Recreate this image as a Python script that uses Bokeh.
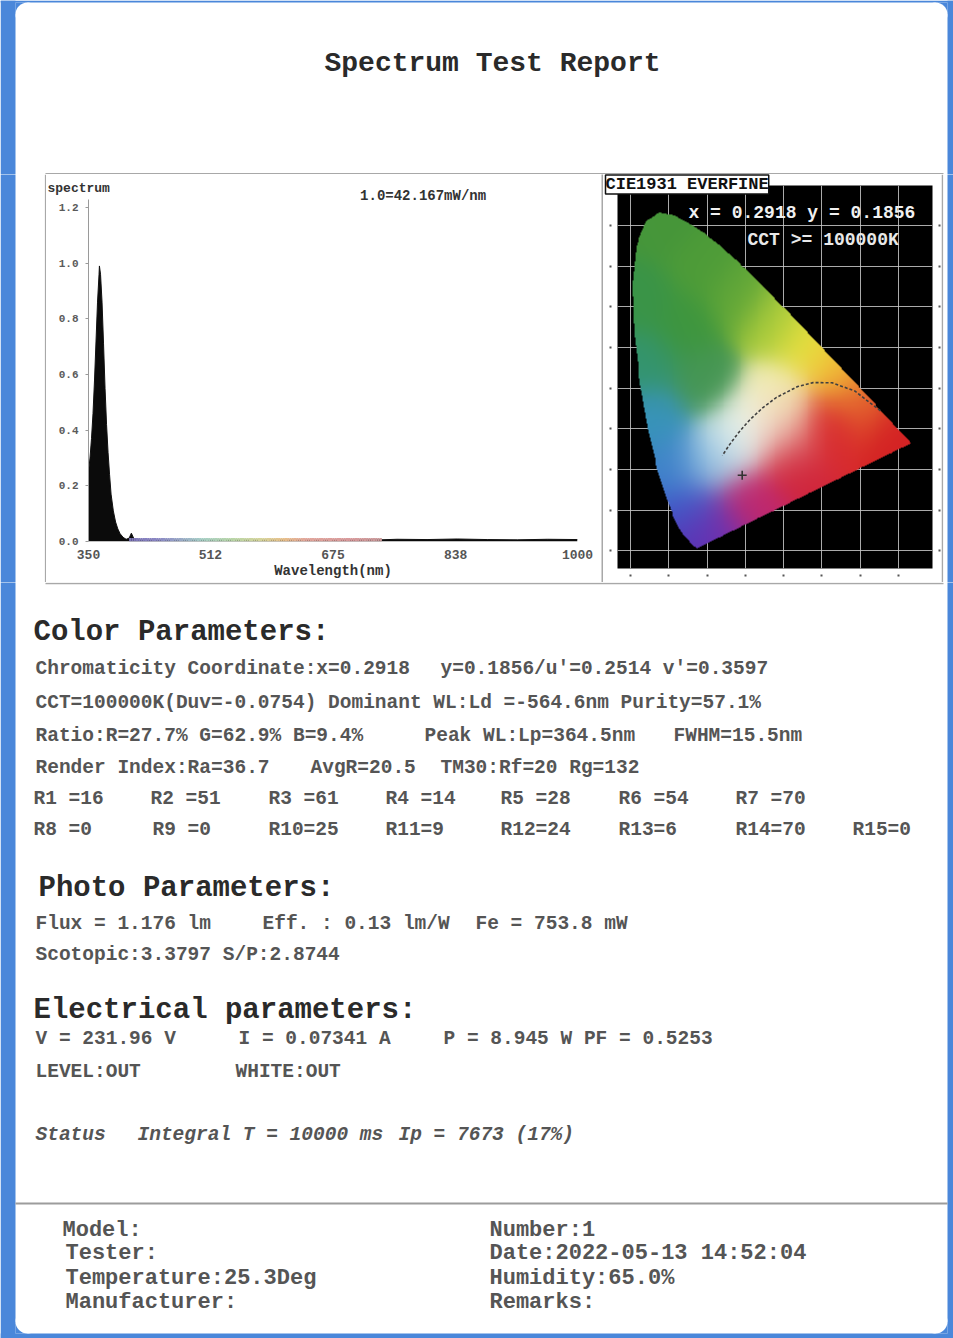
import numpy as np
from bokeh.plotting import figure
from bokeh.layouts import column, row
from bokeh.models import Range1d, FixedTicker, Label, LinearAxis, NumeralTickFormatter
from bokeh.core.properties import value
from bokeh.embed import file_html
from bokeh.resources import INLINE

# ------------------------------------------------------------------ data
report_title = "Spectrum Test Report"
spectrum_title = "spectrum"
spectrum_scale = "1.0=42.167mW/nm"
x_axis_title = "Wavelength(nm)"
x_tick_values = [350, 512, 675, 838, 1000]
y_tick_values = [0.0, 0.2, 0.4, 0.6, 0.8, 1.0, 1.2]

wavelength = [350, 352, 354, 356, 358, 360, 362, 364, 364.5, 366, 368, 370, 372, 374,
              376, 378, 380, 383, 386, 389, 392, 396, 400, 404, 407, 410, 415, 420,
              450, 500, 550, 600, 650, 700, 738, 760, 800, 840, 880, 920, 960, 1000]
rel_power = [0.25, 0.30, 0.37, 0.46, 0.58, 0.72, 0.86, 0.96, 0.99, 0.96, 0.86, 0.71, 0.55, 0.42,
             0.32, 0.24, 0.17, 0.11, 0.07, 0.045, 0.028, 0.015, 0.008, 0.012, 0.03, 0.012, 0.006, 0.005,
             0.005, 0.005, 0.005, 0.005, 0.005, 0.005, 0.006, 0.008, 0.007, 0.009, 0.007, 0.006, 0.008, 0.007]

cie_title = "CIE1931 EVERFINE"
cie_xy_text = "x = 0.2918 y = 0.1856"
cie_cct_text = "CCT >= 100000K"
meas_x = [0.2918]
meas_y = [0.1856]
grid_x = [0.0, 0.1, 0.2, 0.3, 0.4, 0.5, 0.6, 0.7]
grid_y = [0.0, 0.1, 0.2, 0.3, 0.4, 0.5, 0.6, 0.7, 0.8]

# CIE 1931 2-degree spectral locus (380..700 nm)
locus_x = [0.1741, 0.1738, 0.1733, 0.1726, 0.1714, 0.1689, 0.1644, 0.1566, 0.1440, 0.1355,
           0.1241, 0.1096, 0.0913, 0.0687, 0.0454, 0.0235, 0.0082, 0.0039, 0.0139, 0.0389,
           0.0743, 0.1142, 0.1547, 0.1929, 0.2296, 0.2658, 0.3016, 0.3373, 0.3731, 0.4087,
           0.4441, 0.4788, 0.5125, 0.5448, 0.5752, 0.6029, 0.6270, 0.6658, 0.6915, 0.7079,
           0.7190, 0.7260, 0.7300, 0.7334, 0.7347]
locus_y = [0.0050, 0.0049, 0.0048, 0.0048, 0.0051, 0.0069, 0.0109, 0.0177, 0.0297, 0.0399,
           0.0578, 0.0868, 0.1327, 0.2007, 0.2950, 0.4127, 0.5384, 0.6548, 0.7502, 0.8120,
           0.8338, 0.8262, 0.8059, 0.7816, 0.7543, 0.7243, 0.6923, 0.6589, 0.6245, 0.5896,
           0.5547, 0.5202, 0.4866, 0.4544, 0.4242, 0.3965, 0.3725, 0.3340, 0.3083, 0.2920,
           0.2809, 0.2740, 0.2700, 0.2666, 0.2653]

# Planckian locus (1000 K .. infinity)
planck_x = [0.6528, 0.5857, 0.5267, 0.4770, 0.4369, 0.3805, 0.3451, 0.3135, 0.2952, 0.2807, 0.2637, 0.2565, 0.2399]
planck_y = [0.3444, 0.3931, 0.4133, 0.4137, 0.4041, 0.3768, 0.3516, 0.3237, 0.3048, 0.2884, 0.2674, 0.2577, 0.2342]

section_titles = ["Color Parameters:", "Photo Parameters:", "Electrical parameters:"]
chroma_text = ["Chromaticity Coordinate:x=0.2918", "y=0.1856/u'=0.2514 v'=0.3597"]
cct_text = ["CCT=100000K(Duv=-0.0754) Dominant WL:Ld =-564.6nm Purity=57.1%"]
ratio_text = ["Ratio:R=27.7% G=62.9% B=9.4%", "Peak WL:Lp=364.5nm", "FWHM=15.5nm"]
render_text = ["Render Index:Ra=36.7", "AvgR=20.5", "TM30:Rf=20 Rg=132"]
cri_index = list(range(1, 16))
cri_values = [16, 51, 61, 14, 28, 54, 70, 0, 0, 25, 9, 24, 6, 70, 0]
photo_text = ["Flux  = 1.176 lm", "Eff. : 0.13 lm/W", "Fe  = 753.8 mW"]
scotopic_text = ["Scotopic:3.3797 S/P:2.8744"]
elec_text = ["V = 231.96 V", "I = 0.07341 A", "P = 8.945 W PF = 0.5253"]
level_text = ["LEVEL:OUT", "WHITE:OUT"]
status_text = ["Status", "Integral T = 10000 ms", "Ip = 7673 (17%)"]
footer_left = ["Model:", "Tester:", "Temperature:25.3Deg", "Manufacturer:"]
footer_right = ["Number:1", "Date:2022-05-13 14:52:04", "Humidity:65.0%", "Remarks:"]

# ------------------------------------------------------------------ style
MONO = "Liberation Mono"
BLUE = "#4a87da"
BOX = "#a8a8a8"
BODY = "#555555"
HEAD = "#2a2a2a"


def canvas(w, h, x0, x1, y0, y1, bg="white"):
    p = figure(width=w, height=h, x_range=Range1d(x0, x1), y_range=Range1d(y0, y1),
               output_backend="svg", toolbar_location=None,
               x_axis_location=None, y_axis_location=None, frame_align=False,
               min_border_left=0, min_border_right=0, min_border_top=0, min_border_bottom=0,
               outline_line_color=None, background_fill_color=bg, border_fill_color=bg)
    p.grid.grid_line_color = None
    return p


def txt(p, xs, ys, texts, size, color=BODY, style="bold", align="left"):
    p.text(x=xs, y=ys, text=texts, text_font=value(MONO), text_font_style=style,
           text_font_size=size, text_color=color, text_baseline="middle", text_align=align)


def blue(p, l, r, t, b):
    p.quad(left=[l], right=[r], top=[t], bottom=[b], fill_color=BLUE, line_color=None)


# ------------------------------------------------------------------ header (page y 0..174)
head = canvas(953, 174, 0, 953, 174, 0)
blue(head, 0, 15, 0, 174.5)
blue(head, 947, 953, 0, 174.5)
blue(head, 0, 953, 0, 2)
blue(head, 15, 27, 2, 14)
blue(head, 935, 947, 2, 14)
head.circle(x=[27, 935], y=[14, 14], radius=12, fill_color="white", line_color=None)
head.segment(x0=[45], y0=[173.2], x1=[943], y1=[173.2], line_color=BOX, line_width=1.6)
txt(head, [492], [63], [report_title], "28px", HEAD, align="center")

# ------------------------------------------------------------------ left filler (x 0..46)
lf = canvas(46, 408, 0, 46, 582, 174)
blue(lf, 0, 15, 173.5, 582.5)
lf.segment(x0=[45.2], y0=[174], x1=[45.2], y1=[582], line_color=BOX, line_width=1.6)

# ------------------------------------------------------------------ spectrum (x 46..601)
spec = figure(width=555, height=408, x_range=Range1d(350, 1000), y_range=Range1d(0, 1.279),
              output_backend="svg", toolbar_location=None, frame_align=False,
              min_border_left=42, min_border_right=24, min_border_top=11, min_border_bottom=41,
              outline_line_color=None, background_fill_color="white", border_fill_color="white")
spec.grid.grid_line_color = None
spec.varea(x=wavelength, y1=0, y2=rel_power, fill_color="#0b0b0b")
spec.line(x=wavelength, y=rel_power, line_color="#111111", line_width=1)

# visible-light colour band along the baseline (decoration keyed to wavelength)
stops_wl = [404, 440, 470, 500, 540, 580, 610, 640, 700, 738]
stops_rgb = [(126, 118, 184), (138, 134, 196), (152, 166, 200), (166, 207, 198), (184, 214, 168),
             (214, 212, 154), (232, 191, 138), (226, 166, 156), (216, 153, 155), (201, 154, 154)]
edges = np.arange(404, 741, 3.0)
mids = (edges[:-1] + edges[1:]) / 2
cols = []
for m in mids:
    r = np.interp(m, stops_wl, [c[0] for c in stops_rgb])
    g = np.interp(m, stops_wl, [c[1] for c in stops_rgb])
    b = np.interp(m, stops_wl, [c[2] for c in stops_rgb])
    cols.append("#%02x%02x%02x" % (int(r), int(g), int(b)))
spec.quad(left=edges[:-1], right=edges[1:], bottom=0, top=0.013, fill_color=cols, line_color=None)

xa = spec.xaxis[0]
xa.ticker = FixedTicker(ticks=x_tick_values)
xa.axis_line_color = None
xa.major_tick_line_color = None
xa.minor_tick_line_color = None
xa.major_tick_out = 0
xa.major_tick_in = 0
xa.major_label_standoff = 8
xa.major_label_text_font = MONO
xa.major_label_text_font_style = "bold"
xa.major_label_text_font_size = "13px"
xa.major_label_text_color = "#555555"
xa.axis_label = x_axis_title
xa.axis_label_standoff = 1
xa.axis_label_text_font = MONO
xa.axis_label_text_font_style = "bold"
xa.axis_label_text_font_size = "14px"
xa.axis_label_text_color = "#333333"

ya = spec.yaxis[0]
ya.ticker = FixedTicker(ticks=y_tick_values)
ya.formatter = NumeralTickFormatter(format="0.0")
ya.bounds = (0, 1.23)
ya.axis_line_color = "#9a9a9a"
ya.major_tick_line_color = "#9a9a9a"
ya.minor_tick_line_color = None
ya.major_tick_out = 3
ya.major_tick_in = 0
ya.major_label_standoff = 7
ya.major_label_text_font = MONO
ya.major_label_text_font_style = "bold"
ya.major_label_text_font_size = "11px"
ya.major_label_text_color = "#5a5a5a"

spec.title.text = spectrum_title
spec.title.align = "left"
spec.title.offset = -41
spec.title.standoff = -21
spec.title.text_font = MONO
spec.title.text_font_style = "bold"
spec.title.text_font_size = "13px"
spec.title.text_color = "#333333"
spec.add_layout(Label(x=711, y=1.243, text=spectrum_scale, text_font=MONO, text_font_style="bold",
                      text_font_size="14px", text_color="#333333", text_baseline="middle"))

# ------------------------------------------------------------------ separator (x 601..603)
sep = canvas(2, 408, 0, 1, 0, 1, bg=BOX)

# ------------------------------------------------------------------ CIE diagram (x 603..941)
cie = figure(width=338, height=408, x_range=Range1d(-0.034, 0.789), y_range=Range1d(-0.044, 0.899),
             output_backend="svg", toolbar_location=None, frame_align=False,
             min_border_left=14, min_border_right=9, min_border_top=11, min_border_bottom=14,
             outline_line_color=None, background_fill_color="black", border_fill_color="white")
cie.xgrid.ticker = FixedTicker(ticks=grid_x)
cie.ygrid.ticker = FixedTicker(ticks=grid_y)
cie.grid.grid_line_color = "#c8c8c8"
cie.grid.grid_line_width = 1
cie.grid.grid_line_alpha = 0.85
cie.add_layout(LinearAxis(), "right")
for ax in cie.xaxis:
    ax.ticker = FixedTicker(ticks=grid_x + [0.8])
for ax in cie.yaxis:
    ax.ticker = FixedTicker(ticks=grid_y)
for ax in cie.axis:
    ax.axis_line_color = None
    ax.minor_tick_line_color = None
    ax.major_tick_line_color = "#555555"
    ax.major_tick_line_width = 2
    ax.major_tick_in = -6
    ax.major_tick_out = 8
    ax.major_label_text_font_size = "1px"
    ax.major_label_text_color = None
    ax.major_label_standoff = 0

# gamut colouring: smooth blend of colour anchors
anchors = [
    (0.08, 0.80, (70, 150, 58)), (0.03, 0.62, (58, 148, 72)), (0.18, 0.70, (78, 156, 56)),
    (0.28, 0.62, (96, 166, 56)), (0.37, 0.56, (170, 204, 60)), (0.46, 0.51, (232, 224, 62)),
    (0.54, 0.44, (242, 190, 56)), (0.61, 0.37, (228, 100, 46)), (0.69, 0.29, (212, 34, 36)),
    (0.52, 0.30, (216, 42, 46)), (0.42, 0.22, (208, 36, 58)), (0.31, 0.12, (192, 40, 110)),
    (0.22, 0.05, (122, 46, 172)), (0.17, 0.015, (86, 50, 182)), (0.15, 0.10, (62, 92, 202)),
    (0.11, 0.21, (62, 130, 202)), (0.06, 0.32, (56, 148, 186)), (0.04, 0.46, (52, 148, 110)),
    (0.32, 0.31, (246, 246, 232)), (0.27, 0.27, (214, 234, 236)), (0.38, 0.38, (242, 236, 178)),
    (0.19, 0.42, (70, 150, 84)), (0.21, 0.22, (150, 196, 226)), (0.40, 0.30, (236, 190, 176)),
    (0.14, 0.55, (62, 150, 62)),
]
gx0, gx1, gy0, gy1 = 0.0, 0.74, 0.0, 0.84
nx, ny = 300, 340
xs = np.linspace(gx0, gx1, nx)
ys = np.linspace(gy0, gy1, ny)
GX, GY = np.meshgrid(xs, ys)
inside = np.zeros(GX.shape, dtype=bool)
vx = np.array(locus_x)
vy = np.array(locus_y)
j = len(vx) - 1
for i in range(len(vx)):
    xi, yi, xj, yj = vx[i], vy[i], vx[j], vy[j]
    dy = (yj - yi) if yj != yi else 1e-12
    cond = ((yi > GY) != (yj > GY)) & (GX < (xj - xi) * (GY - yi) / dy + xi)
    inside ^= cond
    j = i
wsum = np.zeros(GX.shape)
acc = np.zeros(GX.shape + (3,))
for ax_, ay_, c in anchors:
    w = np.exp(-((GX - ax_) ** 2 + (GY - ay_) ** 2) / (0.075 ** 2)) + 1e-12
    wsum += w
    acc += w[..., None] * np.array(c, dtype=float)
rgb = np.clip(acc / wsum[..., None], 0, 255)
img = np.zeros((ny, nx), dtype=np.uint32)
view = img.view(dtype=np.uint8).reshape((ny, nx, 4))
view[..., 0] = rgb[..., 0].astype(np.uint8)
view[..., 1] = rgb[..., 1].astype(np.uint8)
view[..., 2] = rgb[..., 2].astype(np.uint8)
view[..., 3] = np.where(inside, 255, 0).astype(np.uint8)
cie.image_rgba(image=[img], x=gx0, y=gy0, dw=gx1 - gx0, dh=gy1 - gy0)

cie.line(x=planck_x, y=planck_y, line_color="#404040", line_width=1.6, line_dash="3 2")
cie.scatter(x=meas_x, y=meas_y, marker="cross", size=9, line_color="#333333", line_width=1.6)
cie.text(x=[0.1515], y=[0.8325], text=[cie_xy_text], text_font=value(MONO), text_font_style="bold",
         text_font_size="18px", text_color="#f0f0f0", text_baseline="middle")
cie.text(x=[0.3057], y=[0.7636], text=[cie_cct_text], text_font=value(MONO), text_font_style="bold",
         text_font_size="18px", text_color="#e8e8e8", text_baseline="middle")
cie.title.text = cie_title
cie.title.align = "left"
cie.title.offset = -12
cie.title.standoff = -17
cie.title.text_font = MONO
cie.title.text_font_style = "bold"
cie.title.text_font_size = "17px"
cie.title.text_color = "#111111"
cie.title.background_fill_color = "white"
cie.title.border_line_color = "#111111"
cie.title.border_line_width = 1.5

# ------------------------------------------------------------------ right filler (x 941..953)
rf = canvas(12, 408, 941, 953, 582, 174)
rf.segment(x0=[941.8], y0=[174], x1=[941.8], y1=[582], line_color=BOX, line_width=1.6)
blue(rf, 947, 953, 173.5, 582.5)

# ------------------------------------------------------------------ text area (page y 582..1338)
tp = canvas(953, 756, 0, 953, 1338, 582)
blue(tp, 0, 15, 581.5, 1338)
blue(tp, 947, 953, 581.5, 1338)
blue(tp, 0, 953, 1333, 1338)
blue(tp, 15, 27, 1321, 1333)
blue(tp, 935, 947, 1321, 1333)
tp.circle(x=[27, 935], y=[1321, 1321], radius=12, fill_color="white", line_color=None)
tp.segment(x0=[45], y0=[583], x1=[943], y1=[583], line_color=BOX, line_width=1.6)
tp.segment(x0=[15], y0=[1203], x1=[947], y1=[1203], line_color="#9c9c9c", line_width=2)

txt(tp, [33, 38, 33], [632, 888, 1010], section_titles, "29px", HEAD)
BSZ = "19.5px"
txt(tp, [35, 440], [668, 668], chroma_text, BSZ)
txt(tp, [35], [702], cct_text, BSZ)
txt(tp, [35, 424, 673], [735, 735, 735], ratio_text, BSZ)
txt(tp, [35, 310, 440], [767, 767, 767], render_text, BSZ)
cri_text = ["R%-2d=%d" % (i, v) for i, v in zip(cri_index, cri_values)]
cri_x = [33, 150, 268, 385, 500, 618, 735, 33, 152, 268, 385, 500, 618, 735, 852]
cri_y = [798] * 7 + [829] * 8
txt(tp, cri_x, cri_y, cri_text, BSZ)
txt(tp, [35, 262, 475], [923, 923, 923], photo_text, BSZ)
txt(tp, [35], [954], scotopic_text, BSZ)
txt(tp, [35, 238, 443], [1038, 1038, 1038], elec_text, BSZ)
txt(tp, [35, 235], [1071, 1071], level_text, BSZ)
txt(tp, [35, 137, 398], [1134, 1134, 1134], status_text, BSZ, style="bold italic")
txt(tp, [62, 65, 65, 65], [1230, 1253, 1278, 1302], footer_left, "22px")
txt(tp, [489, 489, 489, 489], [1230, 1253, 1278, 1302], footer_right, "22px")

layout = column(head, row(lf, spec, sep, cie, rf, spacing=0), tp, spacing=0)

open("out.html", "w").write(file_html(layout, INLINE))
